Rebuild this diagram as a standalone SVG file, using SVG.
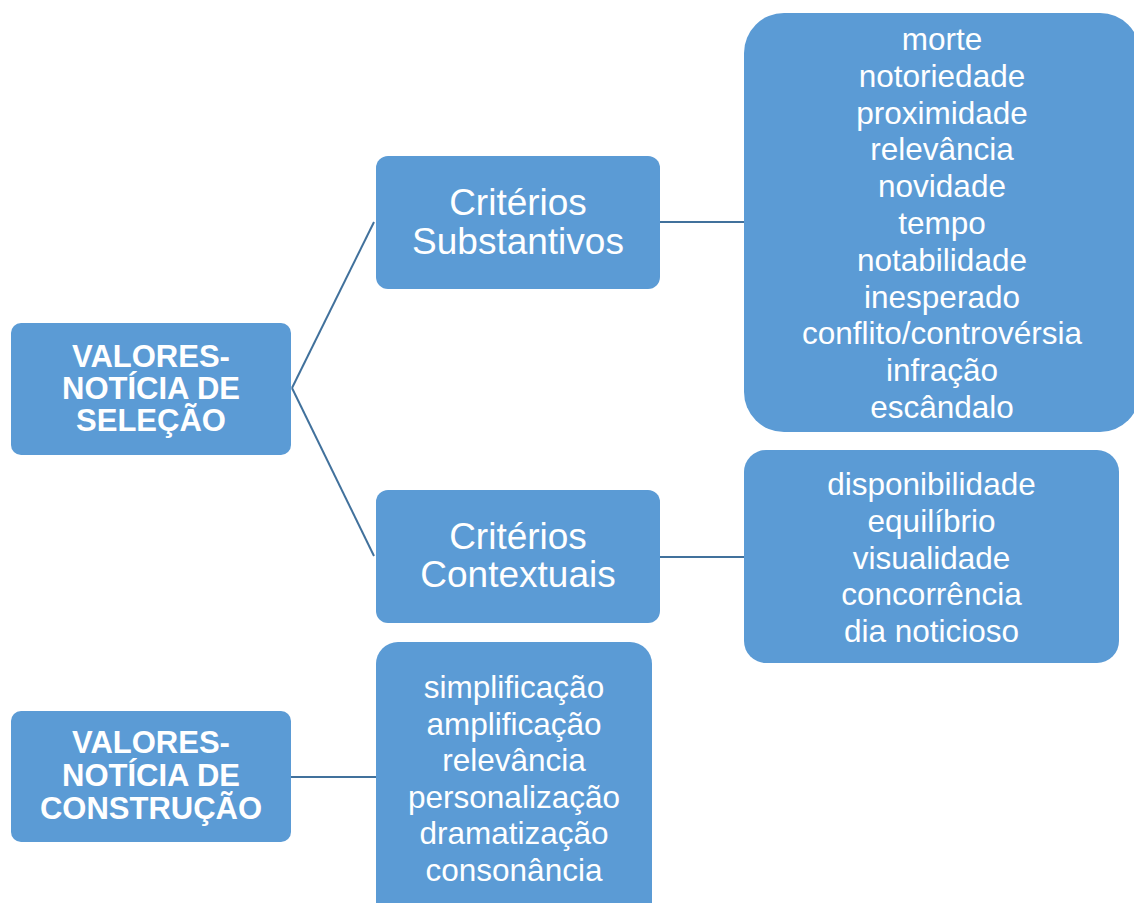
<svg xmlns="http://www.w3.org/2000/svg" width="1134" height="903" viewBox="0 0 1134 903">
<style>
.box{fill:#5B9BD5;}
.conn{stroke:#41719C;stroke-width:2;fill:none;}
.t{font-family:"Liberation Sans",Arial,sans-serif;fill:#FFFFFF;text-anchor:middle;}
.b{font-weight:bold;font-size:31px;}
.m{font-size:37px;}
.s{font-size:31.5px;}
</style>
<rect width="1134" height="903" fill="#FFFFFF"/>
<g id="connectors">
<path class="conn" d="M292,388 L374,222"/>
<path class="conn" d="M292,388 L374,556"/>
<path class="conn" d="M660,222 L744,222"/>
<path class="conn" d="M660,557 L744,557"/>
<path class="conn" d="M291,777 L376,777"/>
</g>
<g id="node-selecao">
<rect class="box" x="11" y="323" width="280" height="132" rx="10"/>
<text class="t b" x="151" y="367">VALORES-</text>
<text class="t b" x="151" y="399">NOTÍCIA DE</text>
<text class="t b" x="151" y="431">SELEÇÃO</text>
</g>
<g id="node-substantivos">
<rect class="box" x="376" y="156" width="284" height="133" rx="12"/>
<text class="t m" x="518" y="215">Critérios</text>
<text class="t m" x="518" y="254">Substantivos</text>
</g>
<g id="node-contextuais">
<rect class="box" x="376" y="490" width="284" height="133" rx="12"/>
<text class="t m" x="518" y="549">Critérios</text>
<text class="t m" x="518" y="587">Contextuais</text>
</g>
<g id="node-lista-substantivos">
<rect class="box" x="744" y="13" width="396" height="419" rx="40"/>
<text class="t s" x="942" y="50">morte</text>
<text class="t s" x="942" y="86.8">notoriedade</text>
<text class="t s" x="942" y="123.6">proximidade</text>
<text class="t s" x="942" y="160.4">relevância</text>
<text class="t s" x="942" y="197.2">novidade</text>
<text class="t s" x="942" y="234">tempo</text>
<text class="t s" x="942" y="270.8">notabilidade</text>
<text class="t s" x="942" y="307.6">inesperado</text>
<text class="t s" x="942" y="344.4">conflito/controvérsia</text>
<text class="t s" x="942" y="381.2">infração</text>
<text class="t s" x="942" y="418">escândalo</text>
</g>
<g id="node-lista-contextuais">
<rect class="box" x="744" y="450" width="375" height="213" rx="22"/>
<text class="t s" x="931.5" y="495">disponibilidade</text>
<text class="t s" x="931.5" y="532">equilíbrio</text>
<text class="t s" x="931.5" y="568.5">visualidade</text>
<text class="t s" x="931.5" y="605">concorrência</text>
<text class="t s" x="931.5" y="642">dia noticioso</text>
</g>
<g id="node-construcao">
<rect class="box" x="11" y="711" width="280" height="131" rx="10"/>
<text class="t b" x="151" y="753">VALORES-</text>
<text class="t b" x="151" y="786">NOTÍCIA DE</text>
<text class="t b" x="151" y="819">CONSTRUÇÃO</text>
</g>
<g id="node-lista-construcao">
<rect class="box" x="376" y="642" width="276" height="290" rx="22"/>
<text class="t s" x="514" y="698">simplificação</text>
<text class="t s" x="514" y="734.6">amplificação</text>
<text class="t s" x="514" y="771.2">relevância</text>
<text class="t s" x="514" y="807.8">personalização</text>
<text class="t s" x="514" y="844.4">dramatização</text>
<text class="t s" x="514" y="881">consonância</text>
</g>
</svg>
